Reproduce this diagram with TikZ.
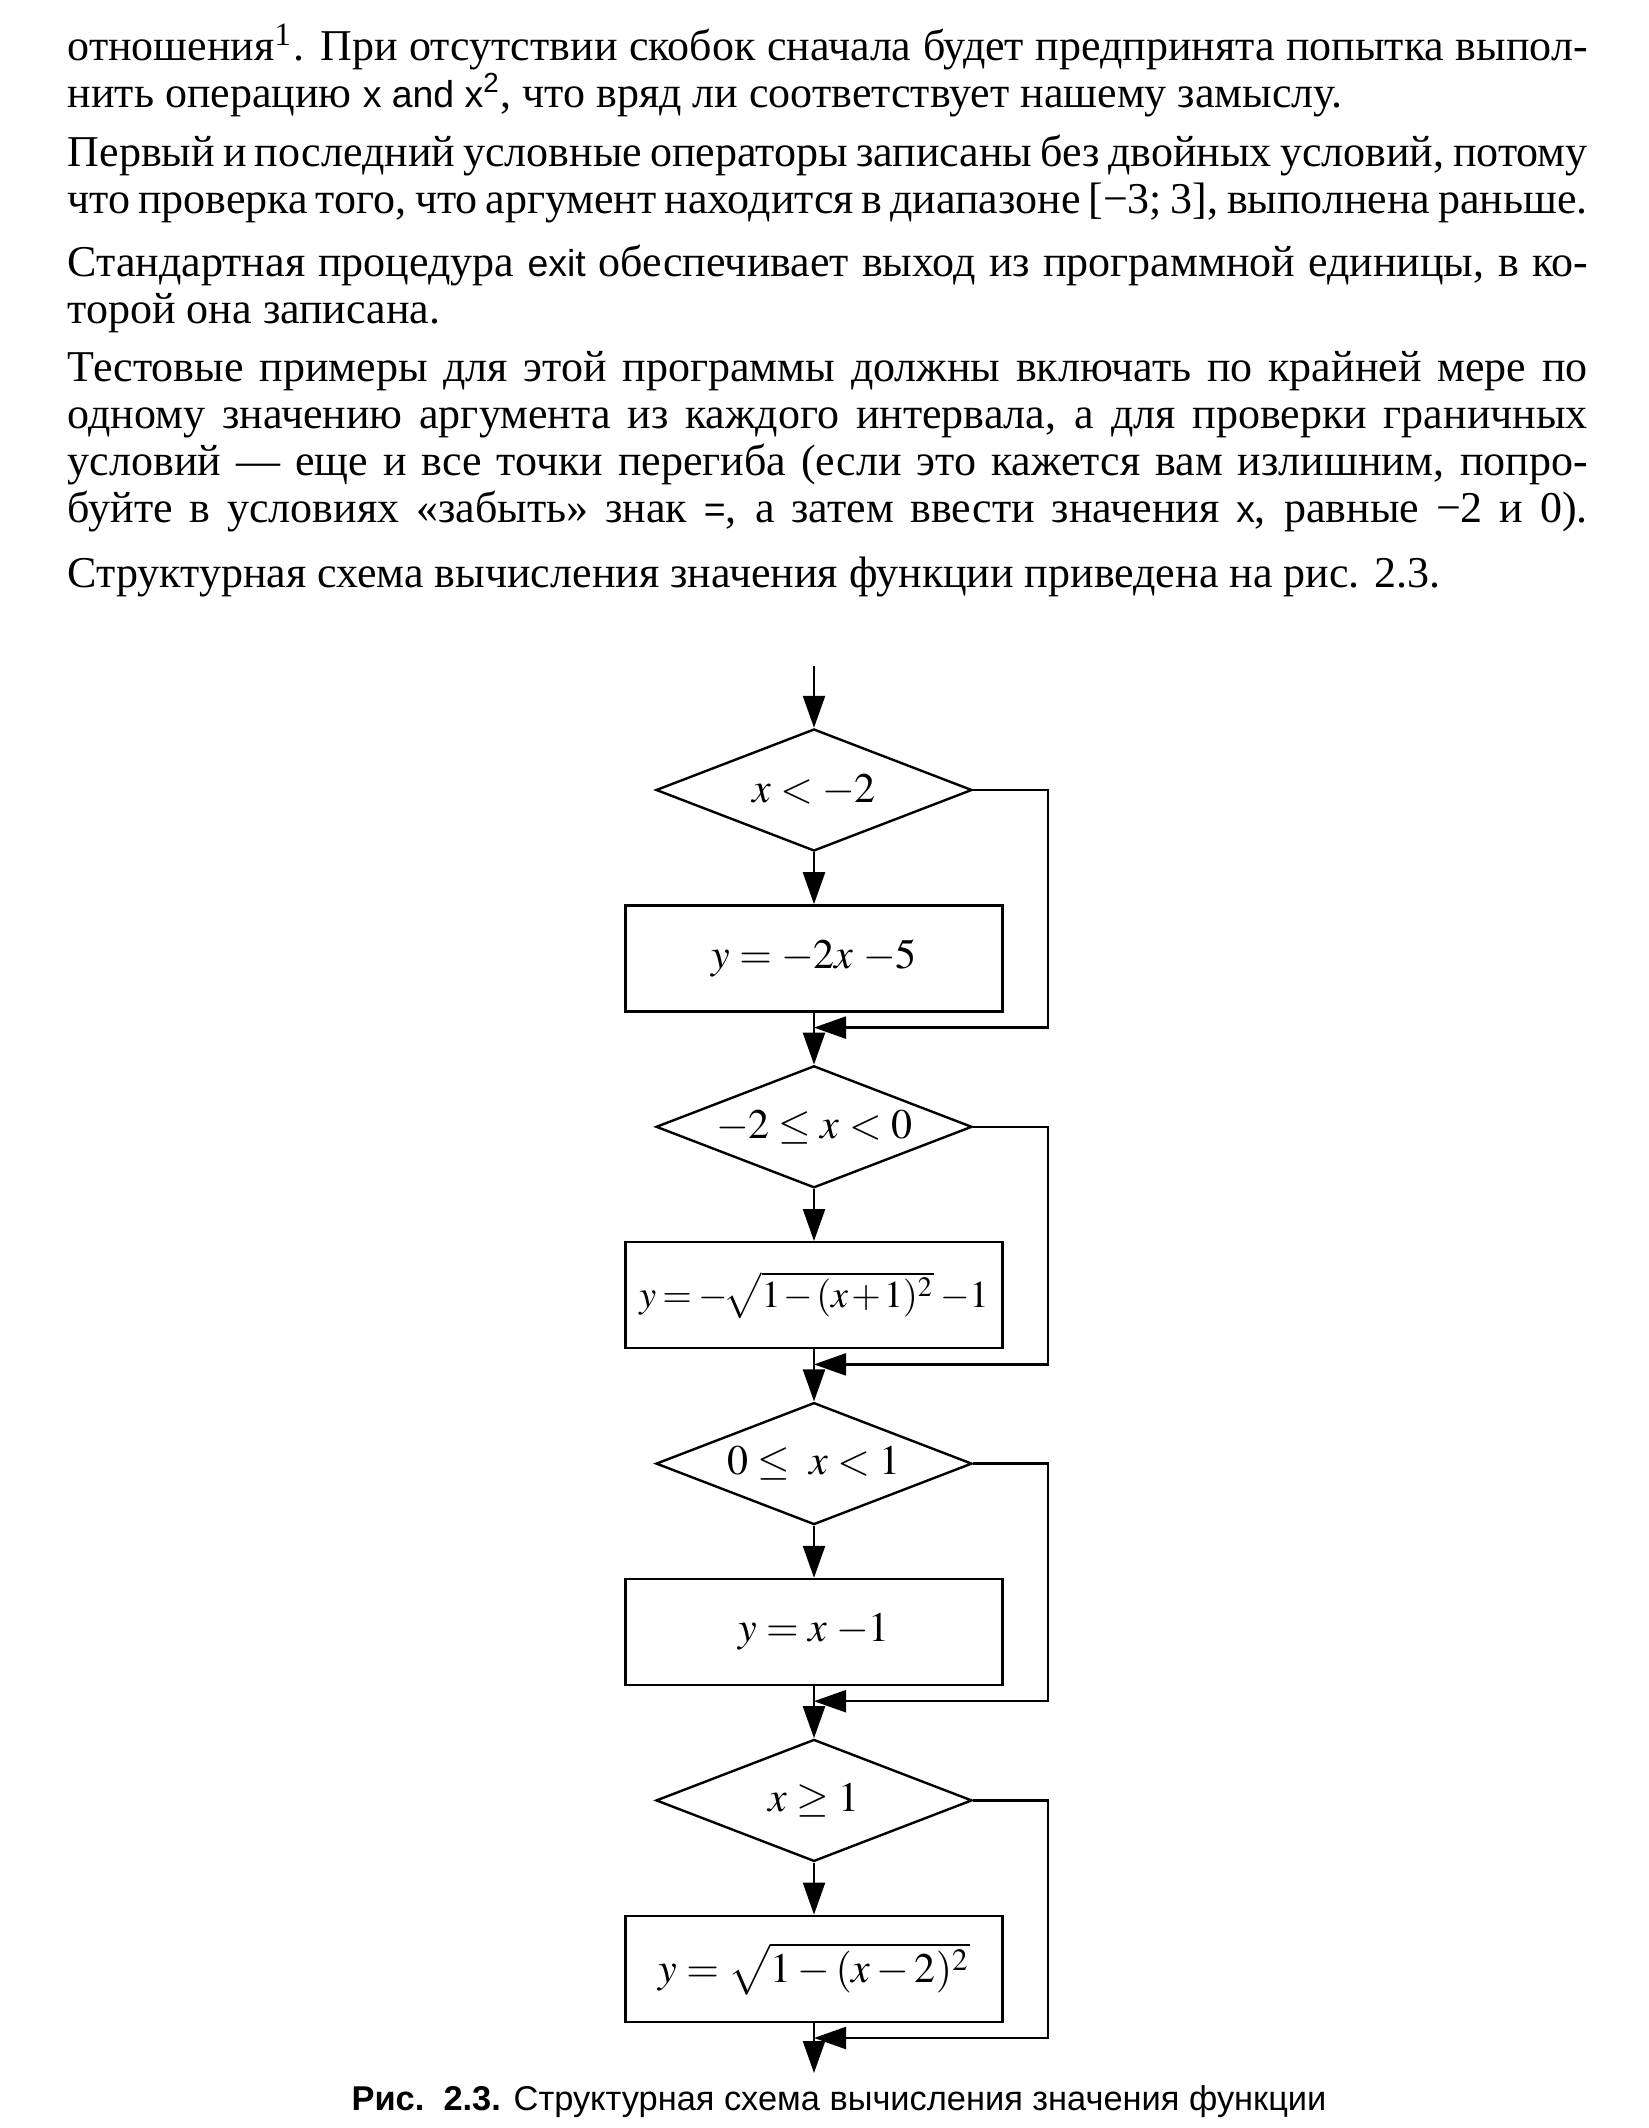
\documentclass[tikz,border=0pt]{standalone}
\usepackage{amsmath}
\usepackage{mathptmx}
\usepackage{fontspec}
\setmainfont{Liberation Serif}
\setsansfont{Liberation Sans}
\newfontfamily\codefont{Liberation Sans}[Scale=0.85]
\usetikzlibrary{shapes.geometric,arrows.meta,positioning,calc}

\tikzset{
  cond/.style ={diamond, draw, line width=0.6pt, aspect=2.6, inner sep=0pt,
                minimum width=79pt, minimum height=30.5pt},
  proc/.style ={rectangle, draw, line width=0.6pt, inner sep=0pt,
                minimum width=94.25pt, minimum height=26.5pt},
  flow/.style ={-{Triangle[length=8pt,width=5.5pt]}, line width=0.6pt},
  para/.style ={anchor=base west, text width=380pt, align=justify, inner sep=0pt,
                font=\fontsize{11}{11.75}\selectfont},
  capt/.style ={anchor=base, inner sep=0pt, font=\sffamily\fontsize{8.6}{10}\selectfont}
}

\begin{document}
\begin{tikzpicture}[x=0.25pt, y=-0.25pt, node distance=13pt,
                    font=\fontsize{10.5}{12}\selectfont]
\useasboundingbox (0,0) rectangle (1648,2128);

% text of the page
\node[para] (p1) at (67,61) {отношения\textsuperscript{1}. При отсутствии скобок сначала будет предпринята попытка выпол-\linebreak
нить операцию {\codefont x and x\textsuperscript{2}}, что вряд ли соответствует нашему замыслу.};
\node[para] (p2) at (67,167) {Первый и последний условные операторы записаны без двойных условий, потому\linebreak
что проверка того, что аргумент находится в диапазоне [−3; 3], выполнена раньше.\parfillskip=0pt\par};
\node[para] (p3) at (67,277) {Стандартная процедура {\codefont exit} обеспечивает выход из программной единицы, в ко-\linebreak
торой она записана.};
\node[para] (p4) at (67,382) {Тестовые примеры для этой программы должны включать по крайней мере по\linebreak
одному значению аргумента из каждого интервала, а для проверки граничных\linebreak
условий — еще и все точки перегиба (если это кажется вам излишним, попро-\linebreak
буйте в условиях «забыть» знак {\codefont =}, а затем ввести значения {\codefont x}, равные −2 и 0).\parfillskip=0pt\par};
\node[para] (p5) at (67,587) {Структурная схема вычисления значения функции приведена на рис. 2.3.};

% the scheme
\node[cond] (c1) at (814,790) {$x < -2$};
\node[proc, below=of c1] (a1) {$y = -2x\;{-5}$};
\node[cond, below=of a1] (c2) {$-2 \le x < 0$};
\node[proc, below=of c2, font=\fontsize{9.5}{11}\selectfont] (a2)
  {\thickmuskip=3mu \medmuskip=1.5mu $y = -\!\sqrt{1-(x+1)^2}\;{-1}$};
\node[cond, below=of a2] (c3) {$0 \le \; x < 1$};
\node[proc, below=of c3] (a3) {$y = x\;{-1}$};
\node[cond, below=of a3] (c4) {$x \ge 1$};
\node[proc, below=of c4] (a4) {$y = \sqrt{1-(x-2)^2}$};
\coordinate[above=15.5pt of c1] (in);
\coordinate[below=12.5pt of a4] (out);
\foreach \i in {1,...,4} \coordinate[below=3.75pt of a\i] (j\i);

\draw[flow] (in) -- (c1);
\foreach \i in {1,...,4} \draw[flow] (c\i) -- (a\i);
\foreach \i/\n in {1/2,2/3,3/4} \draw[flow] (a\i) -- (c\n);
\draw[flow] (a4) -- (out);
\foreach \i in {1,...,4}
  \draw[flow] (c\i.east) -| ($(a\i.east)+(11pt,0)$) |- (j\i);

\node[capt] (cap) at (839,2110) {\textbf{Рис.~~2.3.} Структурная схема вычисления значения функции};
\end{tikzpicture}
\end{document}
